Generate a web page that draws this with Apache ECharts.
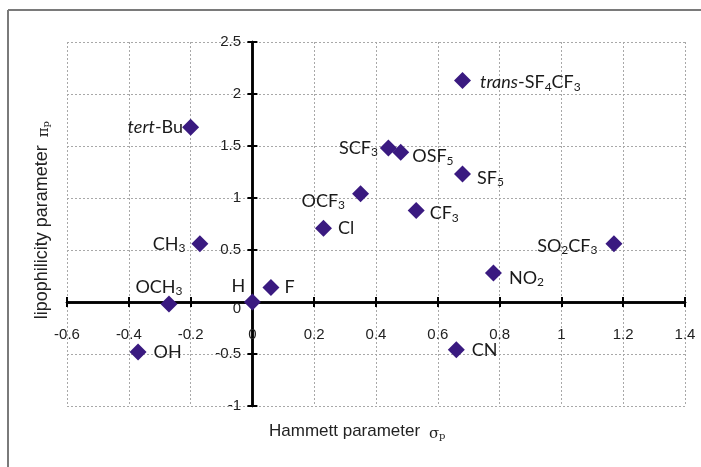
<!DOCTYPE html>
<html>
<head>
<meta charset="utf-8">
<script src="https://cdn.jsdelivr.net/npm/echarts@6/dist/echarts.min.js"></script>
<style>
  html, body { margin: 0; padding: 0; background: #fff; }
  #chart { width: 701px; height: 467px; }
</style>
</head>
<body>
<div id="chart"></div>
<script>
// substituents, Hammett sigma_p and lipophilicity pi_p
const substituents = ['tert-Bu', 'CH3', 'OCH3', 'OH', 'H', 'F', 'Cl', 'OCF3', 'SCF3', 'OSF5', 'SF5', 'CF3', 'trans-SF4CF3', 'SO2CF3', 'NO2', 'CN']
const sigmaP = [-0.20, -0.17, -0.27, -0.37, 0, 0.06, 0.23, 0.35, 0.44, 0.48, 0.68, 0.53, 0.68, 1.17, 0.78, 0.66]
const piP = [1.68, 0.56, -0.02, -0.48, 0, 0.14, 0.71, 1.04, 1.48, 1.44, 1.23, 0.88, 2.13, 0.56, 0.28, -0.46]
// rich-text versions of the names
const labelTexts = ['{i|tert}-Bu', 'CH{s|3}', 'OCH{s|3}', 'OH', 'H', 'F', 'Cl', 'OCF{s|3}', 'SCF{s|3}', 'OSF{s|5}', 'SF{s|5}', 'CF{s|3}', '{i|trans}-SF{s|4}CF{s|3}', 'SO{s|2}CF{s|3}', 'NO{s|2}', 'CN']

const xTicks = { min: -0.6, max: 1.4, interval: 0.2 }
const yTicks = { min: -1, max: 2.5, interval: 0.5 }

// where each label sits next to its point
const labelPlace = {
  'tert-Bu': { position: 'left', distance: -1 },
  'CH3': { position: 'left', distance: 6 },
  'OCH3': { position: 'top', distance: 0, offset: [-10, 2] },
  'OH': { position: 'right', distance: 7 },
  'H': { position: 'top', distance: 0, offset: [-14, 2] },
  'F': { position: 'right', distance: 5 },
  'Cl': { position: 'right', distance: 6 },
  'OCF3': { position: 'left', distance: 7, offset: [0, 7] },
  'SCF3': { position: 'left', distance: 2 },
  'OSF5': { position: 'right', distance: 3, offset: [0, 4] },
  'SF5': { position: 'right', distance: 6, offset: [0, 4] },
  'CF3': { position: 'right', distance: 5, offset: [0, 3] },
  'trans-SF4CF3': { position: 'right', distance: 9, offset: [0, 2] },
  'SO2CF3': { position: 'left', distance: 8, offset: [0, 2] },
  'NO2': { position: 'right', distance: 7, offset: [0, 5] },
  'CN': { position: 'right', distance: 7 }
}

const chart = echarts.init(document.getElementById('chart'))

const richLabel = {
  i: { fontFamily: 'Lato', fontSize: 18, fontStyle: 'italic', color: '#1a1a1a' },
  s: { fontFamily: 'Lato', fontSize: 12, color: '#1a1a1a', padding: [9, 0, 0, 0] }
}

const points = substituents.map((name, k) => {
  const place = labelPlace[name]
  return {
    value: [sigmaP[k], piP[k]],
    name: name,
    label: {
      show: true,
      position: place.position,
      distance: place.distance,
      offset: place.offset || [0, 0],
      formatter: labelTexts[k]
    }
  }
})

const axisLabelStyle = { fontFamily: 'Liberation Sans', fontSize: 15, color: '#222' }
const dotted = { type: [2, 2], color: '#a8a8a8', width: 1 }
const axisLineStyle = { color: '#000', width: 2.5 }

chart.setOption({
  animation: false,
  backgroundColor: '#fff',
  grid: { left: 67, right: 16, top: 42, bottom: 61 },
  xAxis: [{
    type: 'value',
    min: xTicks.min, max: xTicks.max, interval: xTicks.interval,
    axisLine: { onZero: true, lineStyle: axisLineStyle },
    axisTick: { show: true, length: 5, lineStyle: { width: 2, color: '#000' } },
    // labels hang just under the zero line, not at the grid bottom
    axisLabel: Object.assign({ margin: -79 }, axisLabelStyle),
    splitLine: { show: true, lineStyle: dotted }
  }, {
    type: 'value',
    min: xTicks.min, max: xTicks.max, interval: xTicks.interval,
    position: 'bottom',
    axisLine: { onZero: true, lineStyle: axisLineStyle },
    axisTick: { show: true, inside: true, length: 5, lineStyle: { width: 2, color: '#000' } },
    axisLabel: { show: false },
    splitLine: { show: false }
  }],
  yAxis: [{
    type: 'value',
    min: yTicks.min, max: yTicks.max, interval: yTicks.interval,
    axisLine: { onZero: true, lineStyle: axisLineStyle },
    axisTick: { show: true, length: 5, lineStyle: { width: 2, color: '#000' } },
    axisLabel: Object.assign({
      margin: -174,
      formatter: v => (v === 0 ? '{z|0}' : String(v)),
      rich: { z: { fontFamily: 'Liberation Sans', fontSize: 15, color: '#222', padding: [14, 0, 0, 0] } }
    }, axisLabelStyle),
    splitLine: { show: true, lineStyle: dotted }
  }, {
    type: 'value',
    min: yTicks.min, max: yTicks.max, interval: yTicks.interval,
    position: 'left',
    axisLine: { onZero: true, lineStyle: axisLineStyle },
    axisTick: { show: true, inside: true, length: 5, lineStyle: { width: 2, color: '#000' } },
    axisLabel: { show: false },
    splitLine: { show: false }
  }],
  graphic: [
    { type: 'line', shape: { x1: 8, y1: 10, x2: 701, y2: 10 }, style: { stroke: '#7a7a7a', lineWidth: 2 } },
    { type: 'line', shape: { x1: 8, y1: 10, x2: 8, y2: 467 }, style: { stroke: '#7a7a7a', lineWidth: 2 } },
    {
      type: 'text', left: 269, top: 423,
      style: {
        text: 'Hammett parameter {g|σ}{s|p}',
        font: '17px "Liberation Sans"', fill: '#222',
        rich: {
          g: { font: '15px "DejaVu Serif"', fill: '#222', padding: [5, 0, 0, 4] },
          s: { font: '10px "DejaVu Serif"', fill: '#222', padding: [9, 0, 0, 0] }
        }
      }
    },
    {
      type: 'text', left: 33, top: 121, rotation: Math.PI / 2,
      style: {
        text: 'lipophilicity parameter {g|π}{s|p}',
        font: '18px "Liberation Sans"', fill: '#222',
        rich: {
          g: { font: '15px "DejaVu Serif"', fill: '#222', padding: [5, 0, 0, 3] },
          s: { font: '10px "DejaVu Serif"', fill: '#222', padding: [9, 0, 0, 0] }
        }
      }
    }
  ],
  series: [{
    type: 'scatter',
    xAxisIndex: 0,
    yAxisIndex: 0,
    symbol: 'diamond',
    symbolSize: 17,
    itemStyle: { color: '#3a1a80', opacity: 1 },
    label: {
      fontFamily: 'Lato', fontSize: 18, color: '#1a1a1a',
      rich: richLabel
    },
    data: points
  }]
})
</script>
</body>
</html>
